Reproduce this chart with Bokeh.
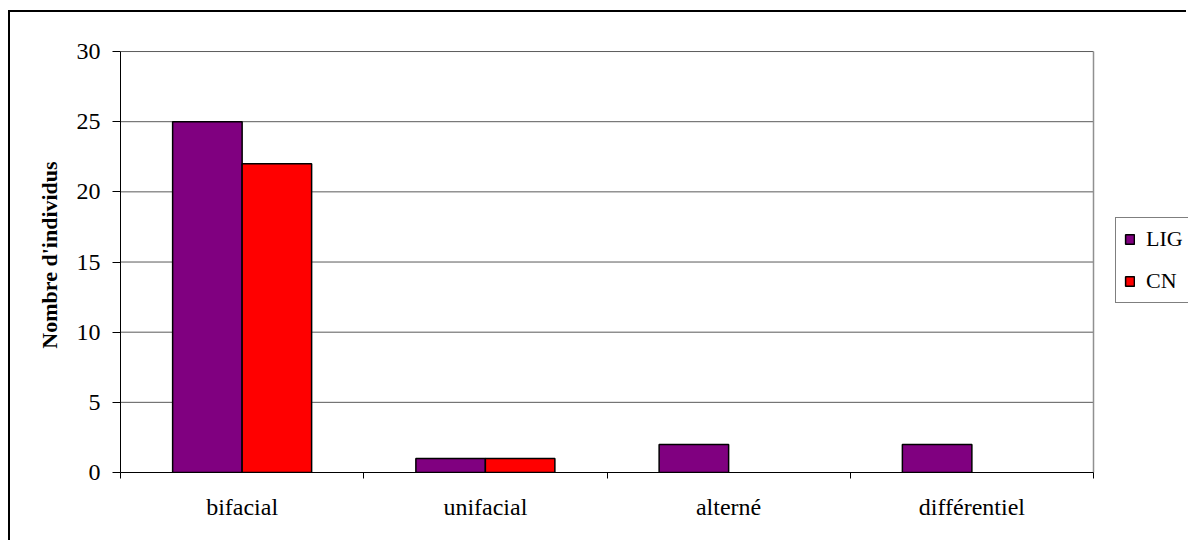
from bokeh.plotting import figure
from bokeh.models import ColumnDataSource, FixedTicker, Legend, LegendItem
from bokeh.embed import file_html
from bokeh.resources import INLINE

categories = ["bifacial", "unifacial", "alterné", "différentiel"]
lig = [25, 1, 2, 2]
cn = [22, 1, 0, 0]
y_ticks = [0, 5, 10, 15, 20, 25, 30]
y_max = 30

FONT = "Liberation Serif"
n = len(categories)
bw = 1 / 3.5
centers = [i + 0.5 for i in range(n)]

src = ColumnDataSource(dict(
    x_lig=[c - bw / 2 for c in centers],
    x_cn=[c + bw / 2 for c in centers],
    lig=lig, cn=cn,
    lc_lig=["black" if v > 0 else None for v in lig],
    lc_cn=["black" if v > 0 else None for v in cn],
))

# layout in pixels
W, H = 1178, 530
plot_w = 973           # width of the category area in px
frame_w = W - 110      # frame runs to the right edge (legend lives there)
x_end = n * frame_w / plot_w
y_end = y_max * 31 / 30

p = figure(width=W, height=H, output_backend="svg", toolbar_location=None,
           x_range=(0, x_end), y_range=(0, y_end),
           min_border_left=110, min_border_right=0, min_border_top=25, min_border_bottom=70)
p.styles = {"border-left": "2px solid black", "border-top": "2px solid black",
            "margin-left": "8px", "margin-top": "10px"}
p.background_fill_color = "white"
p.border_fill_color = "white"
p.outline_line_color = None
p.grid.grid_line_color = None

# horizontal grid lines limited to the plot area
p.segment(x0=[0] * len(y_ticks), y0=y_ticks, x1=[n] * len(y_ticks), y1=y_ticks,
          line_color="#5a5a5a", line_width=1)
# right border of the plot area
p.segment(x0=[n], y0=[0], x1=[n], y1=[y_max], line_color="#909090", line_width=1.5)

r1 = p.vbar(x="x_lig", top="lig", width=bw, source=src, fill_color="#800080",
            line_color="lc_lig", line_width=1.5)
r2 = p.vbar(x="x_cn", top="cn", width=bw, source=src, fill_color="#FF0000",
            line_color="lc_cn", line_width=1.5)

# y axis
p.yaxis.ticker = FixedTicker(ticks=y_ticks)
p.yaxis.bounds = (0, y_max)
p.yaxis.axis_line_color = "black"
p.yaxis.major_tick_in = 0
p.yaxis.major_tick_out = 8
p.yaxis.minor_tick_line_color = None
p.yaxis.major_label_text_font = FONT
p.yaxis.major_label_text_font_size = "24px"
p.yaxis.major_label_text_color = "black"
p.yaxis.major_label_standoff = 12
p.yaxis.axis_label = "Nombre d'individus"
p.yaxis.axis_label_text_font = FONT
p.yaxis.axis_label_text_font_size = "22px"
p.yaxis.axis_label_text_font_style = "bold"
p.yaxis.axis_label_text_color = "black"
p.yaxis.axis_label_standoff = 12

# x axis
p.xaxis.ticker = FixedTicker(ticks=centers, minor_ticks=list(range(n + 1)))
p.xaxis.bounds = (0, n)
p.xaxis.major_label_overrides = {c: name for c, name in zip(centers, categories)}
p.xaxis.major_tick_line_color = None
p.xaxis.major_tick_in = 0
p.xaxis.major_tick_out = 0
p.xaxis.minor_tick_line_color = "black"
p.xaxis.minor_tick_in = 0
p.xaxis.minor_tick_out = 6
p.xaxis.axis_line_color = "black"
p.xaxis.major_label_text_font = FONT
p.xaxis.major_label_text_font_size = "24px"
p.xaxis.major_label_text_color = "black"
p.xaxis.major_label_standoff = 15

legend = Legend(items=[LegendItem(label="LIG", renderers=[r1]),
                       LegendItem(label="CN", renderers=[r2])],
                location=(995, 169))
legend.border_line_color = "black"
legend.border_line_width = 1
legend.background_fill_color = "white"
legend.background_fill_alpha = 1
legend.label_text_font = FONT
legend.label_text_font_size = "22px"
legend.label_text_color = "black"
legend.glyph_width = 11
legend.glyph_height = 12
legend.label_standoff = 11
legend.label_height = 22
legend.spacing = 16
legend.padding = 8
legend.margin = 0
p.add_layout(legend, "center")

open("out.html", "w").write(file_html(p, INLINE))
